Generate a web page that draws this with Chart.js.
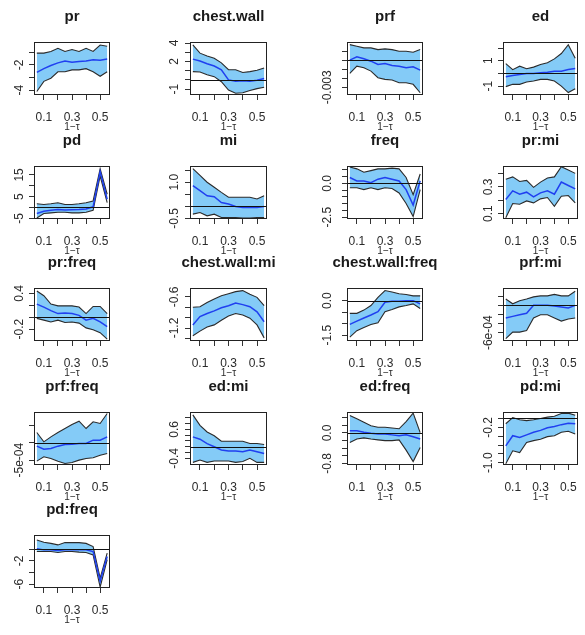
<!DOCTYPE html>
<html>
<head>
<meta charset="utf-8">
<script src="https://cdn.jsdelivr.net/npm/chart.js@4/dist/chart.umd.min.js"></script>
<style>
  html, body { margin: 0; padding: 0; background: #ffffff; overflow: hidden; }
  #wrap { position: relative; width: 585px; height: 635px; overflow: hidden; }
  canvas { position: absolute; }
</style>
</head>
<body>
<div id="wrap"></div>
<script>
// ---------- shared x data ----------
const oneMinusTau = [0.05, 0.10, 0.15, 0.20, 0.25, 0.30, 0.35, 0.40, 0.45, 0.50, 0.55];
const xTicks = [0.1, 0.2, 0.3, 0.4, 0.5];
const xTickLabels = ['0.1', '', '0.3', '', '0.5'];
const xLimits = [0.03, 0.57];
const xAxisTitle = '1\u2212\u03c4';

const panelTitles = ['pr', 'chest.wall', 'prf', 'ed', 'pd', 'mi', 'freq', 'pr:mi',
  'pr:freq', 'chest.wall:mi', 'chest.wall:freq', 'prf:mi', 'prf:freq', 'ed:mi', 'ed:freq', 'pd:mi', 'pd:freq'];

// ---------- per-panel values ----------
const pr_est = [-2.6, -2.3, -2.05, -1.85, -1.7, -1.8, -1.75, -1.7, -1.6, -1.65, -1.55];
const pr_hi  = [-1.08, -1.08, -0.95, -0.7, -0.95, -0.8, -0.95, -0.7, -0.95, -0.45, -0.55];
const pr_lo  = [-4.1, -3.3, -3.05, -2.55, -2.55, -2.4, -2.4, -2.3, -2.55, -2.9, -2.55];
const pr_ylim = [-4.37, -0.21];
const pr_yTicks = [-4, -3, -2, -1];
const pr_yLabels = ['-4', '', '-2', ''];

const cw_est = [2.25, 2.05, 1.75, 1.5, 1.1, 0.0, -0.15, -0.1, -0.15, -0.05, 0.15];
const cw_hi  = [3.8, 2.9, 2.6, 2.35, 1.85, 1.1, 1.1, 0.8, 0.9, 1.05, 1.3];
const cw_lo  = [0.9, 0.85, 0.55, 0.35, -0.2, -1.1, -1.45, -1.4, -1.15, -0.95, -0.8];
const cw_ylim = [-1.64, 4.11];
const cw_yTicks = [-1, 0, 1, 2, 3, 4];
const cw_yLabels = ['-1', '', '', '2', '', '4'];

const prf_est = [0, 3.7e-4, 1.5e-4, -1.1e-4, -4.8e-4, -3.7e-4, -5.9e-4, -6.6e-4, -8.4e-4, -7.3e-4, -1.1e-3];
const prf_hi  = [1.72e-3, 1.54e-3, 1.36e-3, 1.36e-3, 1.17e-3, 1.25e-3, 1.17e-3, 0.99e-3, 0.99e-3, 0.88e-3, 1.17e-3];
const prf_lo  = [-1.47e-3, -0.66e-3, -0.84e-3, -1.21e-3, -1.94e-3, -2.12e-3, -2.2e-3, -2.49e-3, -2.49e-3, -2.67e-3, -3.6e-3];
const prf_ylim = [-0.00385, 0.00201];
const prf_yTicks = [-0.003, -0.002, -0.001, 0, 0.001];
const prf_yLabels = ['-0.003', '', '', '', ''];

const ed_est = [-0.26, -0.16, -0.08, 0, 0, 0.05, 0.1, 0.18, 0.18, 0.31, 0.39];
const ed_hi  = [0.78, 0.3, 0.57, 0.37, 0.5, 0.7, 0.84, 1.15, 1.57, 2.27, 1.2];
const ed_lo  = [-1.04, -0.86, -0.86, -0.68, -0.6, -0.47, -0.47, -0.6, -1.0, -1.51, -1.2];
const ed_ylim = [-1.7, 2.48];
const ed_yTicks = [-1, 0, 1, 2];
const ed_yLabels = ['-1', '', '1', ''];

const pd_est = [-2.8, -1.7, -1.3, -0.9, -1.2, -1.0, -0.9, -0.7, 0.3, 16.5, 3.8];
const pd_hi  = [1.7, 1.4, 1.7, 2.2, 1.4, 1.4, 1.7, 2.2, 3.0, 17.8, 6.1];
const pd_lo  = [-4.8, -2.8, -2.5, -2.2, -2.2, -2.5, -2.5, -2.2, -1.25, 14.5, 2.2];
const pd_ylim = [-5.3, 19.1];
const pd_yTicks = [-5, 0, 5, 10, 15];
const pd_yLabels = ['-5', '', '5', '', '15'];

const mi_est = [0.86, 0.65, 0.44, 0.40, 0.16, 0.10, 0.0, -0.04, -0.04, -0.04, 0.0];
const mi_hi  = [1.56, 1.28, 1.0, 0.79, 0.58, 0.38, 0.38, 0.38, 0.38, 0.31, 0.44];
const mi_lo  = [-0.32, -0.25, -0.39, -0.32, -0.46, -0.46, -0.46, -0.48, -0.48, -0.46, -0.46];
const mi_ylim = [-0.52, 1.67];
const mi_yTicks = [-0.5, 0, 0.5, 1.0, 1.5];
const mi_yLabels = ['-0.5', '', '', '1.0', ''];

const freq_est = [0.43, 0.18, 0.18, 0.05, 0.31, 0.43, 0.31, 0.18, -0.46, -1.6, 0.18];
const freq_hi  = [1.2, 1.07, 0.82, 0.94, 1.07, 1.07, 1.12, 1.07, 0.43, -0.84, 0.69];
const freq_lo  = [-0.33, -0.33, -0.46, -0.33, -0.46, -0.33, -0.38, -0.71, -1.48, -2.45, -0.46];
const freq_ylim = [-2.63, 1.28];
const freq_yTicks = [-2.5, -2.0, -1.5, -1.0, -0.5, 0, 0.5, 1.0];
const freq_yLabels = ['-2.5', '', '', '', '', '0.0', '', ''];

const prmi_est = [0.205, 0.27, 0.245, 0.26, 0.225, 0.255, 0.27, 0.245, 0.335, 0.31, 0.285];
const prmi_hi  = [0.356, 0.374, 0.34, 0.348, 0.296, 0.335, 0.366, 0.374, 0.45, 0.426, 0.40];
const prmi_lo  = [0.07, 0.175, 0.17, 0.195, 0.18, 0.21, 0.22, 0.155, 0.23, 0.235, 0.18];
const prmi_ylim = [0.06, 0.455];
const prmi_yTicks = [0.1, 0.2, 0.3, 0.4];
const prmi_yLabels = ['0.1', '', '0.3', ''];

const prfreq_est = [0.22, 0.17, 0.11, 0.06, 0.07, 0.06, 0.03, -0.05, -0.02, -0.08, -0.16];
const prfreq_hi  = [0.44, 0.36, 0.22, 0.19, 0.19, 0.19, 0.17, 0.06, 0.18, 0.18, 0.06];
const prfreq_lo  = [-0.02, -0.05, -0.08, -0.05, -0.09, -0.08, -0.1, -0.18, -0.21, -0.26, -0.37];
const prfreq_ylim = [-0.4, 0.49];
const prfreq_yTicks = [-0.2, 0, 0.2, 0.4];
const prfreq_yLabels = ['-0.2', '', '', '0.4'];

const cwmi_est = [-1.14, -0.98, -0.92, -0.87, -0.81, -0.77, -0.72, -0.75, -0.79, -0.89, -1.08];
const cwmi_hi  = [-0.8, -0.79, -0.71, -0.64, -0.58, -0.54, -0.5, -0.48, -0.55, -0.61, -0.77];
const cwmi_lo  = [-1.35, -1.26, -1.18, -1.14, -1.05, -0.97, -0.92, -0.95, -1.01, -1.14, -1.39];
const cwmi_ylim = [-1.45, -0.43];
const cwmi_yTicks = [-1.4, -1.2, -1.0, -0.8, -0.6];
const cwmi_yLabels = ['', '-1.2', '', '', '-0.6'];

const cwfreq_est = [-1.03, -0.89, -0.75, -0.62, -0.48, -0.07, -0.03, -0.03, 0, 0, -0.14];
const cwfreq_hi  = [-0.55, -0.55, -0.41, -0.21, 0.14, 0.44, 0.38, 0.3, 0.27, 0.21, 0.21];
const cwfreq_lo  = [-1.58, -1.3, -1.16, -1.03, -0.96, -0.48, -0.38, -0.27, -0.21, -0.14, -0.34];
const cwfreq_ylim = [-1.75, 0.55];
const cwfreq_yTicks = [-1.5, -1.0, -0.5, 0];
const cwfreq_yLabels = ['-1.5', '', '', '0.0'];

const prfmi_est = [-2.76e-4, -2.41e-4, -2.07e-4, -1.72e-4, 0, 0, 0, -0.14e-4, -0.34e-4, -0.55e-4, 0];
const prfmi_hi  = [1.38e-4, 0.34e-4, 1.03e-4, 1.38e-4, 1.86e-4, 2.07e-4, 2.07e-4, 2.41e-4, 2.07e-4, 2.07e-4, 3.1e-4];
const prfmi_lo  = [-7.3e-4, -5.86e-4, -5.86e-4, -5.5e-4, -2.76e-4, -2.07e-4, -2.07e-4, -2.76e-4, -3.45e-4, -2.97e-4, -2.76e-4];
const prfmi_ylim = [-7.8e-4, 3.8e-4];
const prfmi_yTicks = [-6e-4, -4e-4, -2e-4, 0, 2e-4];
const prfmi_yLabels = ['-6e-04', '', '', '', ''];

const prffreq_est = [-0.96e-4, -1.83e-4, -1.63e-4, -0.96e-4, -0.48e-4, -0.38e-4, -0.19e-4, -0.19e-4, 0.77e-4, 0.77e-4, 1.73e-4];
const prffreq_hi  = [2.98e-4, 0.29e-4, 1.73e-4, 2.98e-4, 4.13e-4, 5.29e-4, 6.25e-4, 4.13e-4, 6.06e-4, 5.58e-4, 8.46e-4];
const prffreq_lo  = [-5.29e-4, -4.04e-4, -4.52e-4, -5.29e-4, -5.96e-4, -5.67e-4, -5.0e-4, -4.52e-4, -4.33e-4, -3.56e-4, -3.08e-4];
const prffreq_ylim = [-6.4e-4, 8.9e-4];
const prffreq_yTicks = [-5e-4, 0, 5e-4];
const prffreq_yLabels = ['-5e-04', '', ''];

const edmi_est = [0.34, 0.26, 0.11, 0, -0.11, -0.15, -0.15, -0.17, -0.11, -0.17, -0.23];
const edmi_hi  = [1.1, 0.74, 0.51, 0.38, 0.19, 0.19, 0.19, 0.19, 0.11, 0.11, 0.08];
const edmi_lo  = [-0.54, -0.46, -0.54, -0.49, -0.49, -0.49, -0.54, -0.51, -0.4, -0.54, -0.54];
const edmi_ylim = [-0.63, 1.2];
const edmi_yTicks = [-0.4, -0.2, 0, 0.2, 0.4, 0.6, 0.8, 1.0];
const edmi_yLabels = ['-0.4', '', '', '', '', '0.6', '', ''];

const edfreq_est = [0.06, 0.06, 0.02, -0.01, -0.03, -0.03, -0.05, -0.07, -0.05, -0.1, -0.16];
const edfreq_hi  = [0.46, 0.37, 0.28, 0.19, 0.15, 0.15, 0.13, 0.11, 0.3, 0.52, 0.01];
const edfreq_lo  = [-0.25, -0.16, -0.13, -0.16, -0.18, -0.2, -0.2, -0.18, -0.45, -0.75, -0.38];
const edfreq_ylim = [-0.84, 0.55];
const edfreq_yTicks = [-0.8, -0.6, -0.4, -0.2, 0, 0.2, 0.4];
const edfreq_yLabels = ['-0.8', '', '', '', '0.0', '', ''];

const pdmi_est = [-0.62, -0.39, -0.43, -0.37, -0.31, -0.27, -0.21, -0.18, -0.14, -0.11, -0.12];
const pdmi_hi  = [-0.12, 0.02, -0.03, -0.05, -0.03, 0.0, 0.03, 0.05, 0.11, 0.12, 0.07];
const pdmi_lo  = [-1.02, -0.73, -0.77, -0.54, -0.5, -0.47, -0.41, -0.39, -0.31, -0.29, -0.35];
const pdmi_ylim = [-1.05, 0.145];
const pdmi_yTicks = [-1.0, -0.8, -0.6, -0.4, -0.2, 0];
const pdmi_yLabels = ['-1.0', '', '', '', '-0.2', ''];

const pdfreq_est = [0.1, -0.11, -0.11, -0.23, -0.11, -0.11, -0.11, -0.11, -0.4, -5.5, -1.25];
const pdfreq_hi  = [1.6, 1.2, 1.0, 0.74, 1.14, 1.14, 1.14, 1.0, 0.45, -4.94, -0.68];
const pdfreq_lo  = [-0.4, -0.4, -0.4, -0.57, -0.4, -0.4, -0.5, -0.57, -0.97, -6.5, -1.8];
const pdfreq_ylim = [-6.65, 2.44];
const pdfreq_yTicks = [-6, -4, -2, 0];
const pdfreq_yLabels = ['-6', '', '-2', ''];

// ---------- assemble ----------
const panelData = [
  [pr_est, pr_lo, pr_hi, pr_ylim, pr_yTicks, pr_yLabels],
  [cw_est, cw_lo, cw_hi, cw_ylim, cw_yTicks, cw_yLabels],
  [prf_est, prf_lo, prf_hi, prf_ylim, prf_yTicks, prf_yLabels],
  [ed_est, ed_lo, ed_hi, ed_ylim, ed_yTicks, ed_yLabels],
  [pd_est, pd_lo, pd_hi, pd_ylim, pd_yTicks, pd_yLabels],
  [mi_est, mi_lo, mi_hi, mi_ylim, mi_yTicks, mi_yLabels],
  [freq_est, freq_lo, freq_hi, freq_ylim, freq_yTicks, freq_yLabels],
  [prmi_est, prmi_lo, prmi_hi, prmi_ylim, prmi_yTicks, prmi_yLabels],
  [prfreq_est, prfreq_lo, prfreq_hi, prfreq_ylim, prfreq_yTicks, prfreq_yLabels],
  [cwmi_est, cwmi_lo, cwmi_hi, cwmi_ylim, cwmi_yTicks, cwmi_yLabels],
  [cwfreq_est, cwfreq_lo, cwfreq_hi, cwfreq_ylim, cwfreq_yTicks, cwfreq_yLabels],
  [prfmi_est, prfmi_lo, prfmi_hi, prfmi_ylim, prfmi_yTicks, prfmi_yLabels],
  [prffreq_est, prffreq_lo, prffreq_hi, prffreq_ylim, prffreq_yTicks, prffreq_yLabels],
  [edmi_est, edmi_lo, edmi_hi, edmi_ylim, edmi_yTicks, edmi_yLabels],
  [edfreq_est, edfreq_lo, edfreq_hi, edfreq_ylim, edfreq_yTicks, edfreq_yLabels],
  [pdmi_est, pdmi_lo, pdmi_hi, pdmi_ylim, pdmi_yTicks, pdmi_yLabels],
  [pdfreq_est, pdfreq_lo, pdfreq_hi, pdfreq_ylim, pdfreq_yTicks, pdfreq_yLabels]
];

// ---------- layout / style ----------
const FONT = "'Liberation Sans', Arial, Helvetica, sans-serif";
const colLeft = [34, 190, 347, 503];
const colWidth = [76, 77, 76, 75];
const rowTop = [42, 166, 288, 412, 535];
const boxH = 53;
const sideSpace = 34, topSpace = 42, bottomSpace = 40;
const labelGap = [14, 15, 19, 14];
const tickLen = 5;
const tickFontSize = 12;

const measureCtx = document.createElement('canvas').getContext('2d');
measureCtx.font = tickFontSize + 'px ' + FONT;

const boxPlugin = {
  id: 'boxPlugin',
  afterDraw(chart) {
    const a = chart.chartArea, ctx = chart.ctx;
    ctx.save();
    ctx.strokeStyle = '#222';
    ctx.lineWidth = 1;
    ctx.strokeRect(Math.round(a.left) + 0.5, Math.round(a.top) + 0.5,
                   Math.round(a.right - a.left) - 1, Math.round(a.bottom - a.top) - 1);
    ctx.restore();
  }
};
const zeroLinePlugin = {
  id: 'zeroLine',
  afterDatasetsDraw(chart) {
    const ys = chart.scales.y;
    if (ys.min > 0 || ys.max < 0) return;
    const a = chart.chartArea, ctx = chart.ctx;
    const py = Math.round(ys.getPixelForValue(0)) + 0.5;
    ctx.save();
    ctx.strokeStyle = '#111';
    ctx.lineWidth = 1;
    ctx.beginPath();
    ctx.moveTo(a.left, py);
    ctx.lineTo(a.right, py);
    ctx.stroke();
    ctx.restore();
  }
};

const wrap = document.getElementById('wrap');

panelData.forEach((pd, i) => {
  const [est, lo, hi, ylim, yTicks, yLabels] = pd;
  const col = i % 4, row = Math.floor(i / 4);
  const cw = sideSpace + colWidth[col] + sideSpace;
  const ch = topSpace + boxH + bottomSpace;
  const canvas = document.createElement('canvas');
  canvas.width = cw; canvas.height = ch;
  canvas.style.left = (colLeft[col] - sideSpace) + 'px';
  canvas.style.top = (rowTop[row] - topSpace) + 'px';
  canvas.style.width = cw + 'px'; canvas.style.height = ch + 'px';
  wrap.appendChild(canvas);

  let widest = 0;
  yLabels.forEach(l => { widest = Math.max(widest, measureCtx.measureText(l).width); });
  const yPad = labelGap[col] - tickLen - widest / 2;

  const toPts = arr => arr.map((v, k) => ({ x: oneMinusTau[k], y: v }));

  new Chart(canvas, {
    type: 'line',
    data: {
      datasets: [
        { data: toPts(hi), borderColor: '#2b2b2b', borderWidth: 1.1, pointRadius: 0,
          fill: '+1', backgroundColor: '#84CBF7', tension: 0, order: 2 },
        { data: toPts(lo), borderColor: '#2b2b2b', borderWidth: 1.1, pointRadius: 0,
          fill: false, tension: 0, order: 1 },
        { data: toPts(est), borderColor: '#2040f0', borderWidth: 1.5, pointRadius: 0,
          fill: false, tension: 0, order: 0 }
      ]
    },
    options: {
      responsive: false,
      animation: false,
      devicePixelRatio: 1,
      events: [],
      layout: { padding: 0 },
      plugins: {
        legend: { display: false },
        tooltip: { enabled: false },
        filler: { drawTime: 'beforeDatasetsDraw' },
        title: {
          display: true, text: panelTitles[i], fullSize: true, color: '#1a1a1a',
          font: { family: FONT, size: 15, weight: 'bold', lineHeight: 1.2 },
          padding: { top: 7.5, bottom: 16.5 }
        }
      },
      scales: {
        x: {
          type: 'linear', min: xLimits[0], max: xLimits[1],
          afterBuildTicks: s => { s.ticks = xTicks.map(v => ({ value: v })); },
          afterFit: s => { s.height = bottomSpace; },
          ticks: {
            autoSkip: false, maxRotation: 0, minRotation: 0, padding: 10.8,
            color: '#2a2a2a', font: { family: FONT, size: tickFontSize },
            callback: (v, k) => xTickLabels[k]
          },
          grid: { drawOnChartArea: false, drawTicks: true, tickLength: tickLen, color: '#333', lineWidth: 1 },
          border: { display: false },
          title: { display: true, text: xAxisTitle, color: '#2a2a2a',
                   font: { family: FONT, size: 10, lineHeight: 1.2 }, padding: { top: 0, bottom: 1.5 } }
        },
        y: {
          type: 'linear', position: 'left', min: ylim[0], max: ylim[1],
          afterBuildTicks: s => { s.ticks = yTicks.map(v => ({ value: v })); },
          afterFit: s => { s.width = sideSpace; },
          ticks: {
            autoSkip: false, minRotation: 90, maxRotation: 90, crossAlign: 'center', padding: yPad,
            color: '#2a2a2a', font: { family: FONT, size: tickFontSize },
            callback: (v, k) => yLabels[k]
          },
          grid: { drawOnChartArea: false, drawTicks: true, tickLength: tickLen, color: '#333', lineWidth: 1 },
          border: { display: false }
        },
        yRightSpace: {
          type: 'linear', position: 'right', display: true,
          afterFit: s => { s.width = sideSpace; },
          ticks: { display: false },
          grid: { display: false },
          border: { display: false }
        }
      }
    },
    plugins: [zeroLinePlugin, boxPlugin]
  });
});
</script>
</body>
</html>
